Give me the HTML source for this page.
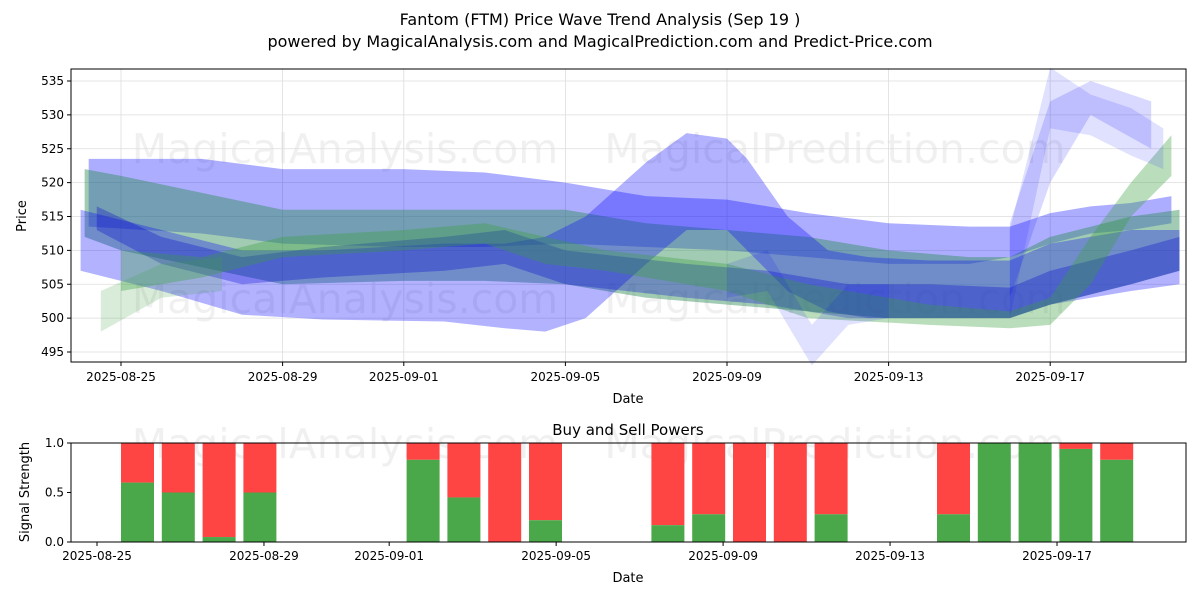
<!DOCTYPE html>
<html><head><meta charset="utf-8"><style>
body{margin:0;background:#fff;font-family:"Liberation Sans","DejaVu Sans",sans-serif;}
svg text{font-family:"DejaVu Sans","Liberation Sans",sans-serif;}
</style></head><body>
<svg id="c" width="1200" height="600" viewBox="0 0 1200 600" xmlns="http://www.w3.org/2000/svg">
<rect width="1200" height="600" fill="#fff"/>
<text x="600" y="25" text-anchor="middle" font-size="16">Fantom (FTM) Price Wave Trend Analysis (Sep 19 )</text>
<text x="600" y="47" text-anchor="middle" font-size="16">powered by MagicalAnalysis.com and MagicalPrediction.com and Predict-Price.com</text>
<g id="topPanel"></g>
<g id="botPanel"></g>
</svg>
<script>
const NS="http://www.w3.org/2000/svg";
const tickDates=["2025-08-25","2025-08-29","2025-09-01","2025-09-05","2025-09-09","2025-09-13","2025-09-17"];
const tickDays=[0,4,7,11,15,19,23];
const priceTicks=[495,500,505,510,515,520,525,530,535];
const sigTicks=[0,0.5,1.0];
const sigLabels=["0.0","0.5","1.0"];
const b1Days=[-0.8,2,4,7,9,11,13,15,17,19,21,22,23,24,25,26];
const b1Lo=[513.5,512.5,511,510.5,510.5,511,510.5,510,509,508,508,509,511,512.5,513,514];
const b1Hi=[523.5,523.5,522,522,521.5,520,518,517.5,515.5,514,513.5,513.5,515.5,516.5,517,518];
const b2Days=[-0.9,0,4,7,9,11,13,15,17,19,21,22,23,25,26.2];
const b2Lo=[512,510,505,505.5,505.5,505,503,502,501,500,500,500,502,505,507];
const b2Hi=[522,521,516,516,516,516,514,513,512,510,509,509,512,515,516];
const b3Days=[-1,1,3,5,8,9.5,10.5,11.5,13,14,15,15.5,16.5,17.5,18.5,20,22,23,25,26.2];
const b3Lo=[507,504,500.5,499.8,499.5,498.5,498,500,508,513,513,510,504,501,500,500,500,502,504,505];
const b3Hi=[516,513,510,510,511,511,512,515,523,527.3,526.5,523.5,515,510,509,508.5,508.5,511,513,513];
const b4Days=[-0.6,1,3,5,8,9.5,11,14,16,18,20,22,23,25,26.2];
const b4Lo=[513,508,505,506,507,508,505,503,502,500,500,500,502,505,507];
const b4Hi=[516.5,512,509,510.5,512,513,510,508,507,505,505,504.5,507,510,512];
const b5Days=[0,2,4,7,9,10.5,12,15,17,20,22,23,24,25,26];
const b5Lo=[504,506,509,510,511,508,507,504,500,499,498.5,499,505,515,521];
const b5Hi=[510,509,512,513,514,512,510,508,505,502,501,503,512,520,527];
const b6Days=[22,23,24,25,25.8];
const b6Lo=[500,528,527,524,522];
const b6Hi=[513,537,533,531,528];
const b7Days=[22,23,24,25.5];
const b7Lo=[503,520,530,525];
const b7Hi=[514,532,535,532];
const b8Days=[15,16,17.1,18,19];
const b8Lo=[503,504,493,499,500];
const b8Hi=[508,510,499,505,505];
const b9Days=[-0.5,1,2.5];
const b9Lo=[498,503,504];
const b9Hi=[504,508,509];
const sigDays=[1,2,3,4,8,9,10,11,14,15,16,17,18,21,22,23,24,25];
const buyVals=[0.6,0.5,0.05,0.5,0.83,0.45,0,0.22,0.17,0.28,0,0,0.28,0.28,1.0,1.0,0.94,0.83];

const L=71,R=1186,T1=69,B1=362,T2=443,B2=542;
const xTop=d=>121+d*40.4;
const yTop=p=>81+(535-p)*6.775;
const xBot=d=>97+d*41.74;
const xBar=d=>137.5+(d-1)*40.8;
const yBot=v=>B2-v*(B2-T2);
function el(t,a,p){const e=document.createElementNS(NS,t);for(const k in a)e.setAttribute(k,a[k]);p.appendChild(e);return e;}
const topG=document.getElementById('topPanel'),botG=document.getElementById('botPanel');
[[345,163,"MagicalAnalysis.com"],[835,163,"MagicalPrediction.com"],[345,313,"MagicalAnalysis.com"],[835,313,"MagicalPrediction.com"],[345,458,"MagicalAnalysis.com"],[835,458,"MagicalPrediction.com"]].forEach(w=>{
 const t=el('text',{x:w[0],y:w[1],'text-anchor':'middle','font-size':41,fill:'#000','fill-opacity':0.06},topG);t.textContent=w[2];
 
 
});
priceTicks.forEach(p=>{const y=yTop(p);
 const g=el('line',{x1:L,x2:R,y1:y,y2:y,stroke:'#ddd','stroke-width':0.8},topG);
 
 
 el('line',{x1:L-4,x2:L,y1:y,y2:y,stroke:'#000'},topG);
 const t=el('text',{x:L-7,y:y+4,'text-anchor':'end','font-size':12},topG);t.textContent=p;
 
 
});
tickDays.forEach((d,i)=>{const x=xTop(d);
 const g=el('line',{x1:x,x2:x,y1:T1,y2:B1,stroke:'#ddd','stroke-width':0.8},topG);
 
 
 el('line',{x1:x,x2:x,y1:B1,y2:B1+4,stroke:'#000'},topG);
 const t=el('text',{x:x,y:B1+19,'text-anchor':'middle','font-size':12},topG);t.textContent=tickDates[i];
 
 
});
const bands=[[b1Days,b1Lo,b1Hi,'#0000ff',0.32],[b2Days,b2Lo,b2Hi,'#2e8b57',0.45],[b3Days,b3Lo,b3Hi,'#0000ff',0.3],[b4Days,b4Lo,b4Hi,'#0000cc',0.3],[b5Days,b5Lo,b5Hi,'#3aa040',0.35],[b6Days,b6Lo,b6Hi,'#0000ff',0.12],[b7Days,b7Lo,b7Hi,'#0000ff',0.15],[b8Days,b8Lo,b8Hi,'#0000ff',0.12],[b9Days,b9Lo,b9Hi,'#3aa040',0.2]];
bands.forEach(b=>{const [ds,lo,hi,c,a]=b;
 let pts=ds.map((d,i)=>xTop(d)+','+yTop(hi[i]));
 pts=pts.concat(ds.map((d,i)=>xTop(d)+','+yTop(lo[i])).reverse());
 const p=el('polygon',{points:pts.join(' '),fill:c,'fill-opacity':a},topG);
 
 
});
el('rect',{x:L,y:T1,width:R-L,height:B1-T1,fill:'none',stroke:'#000','stroke-width':1},topG);
let tx=el('text',{x:628,y:403,'text-anchor':'middle','font-size':13},topG);tx.textContent='Date';

tx=el('text',{x:26,y:216,'text-anchor':'middle','font-size':13,transform:'rotate(-90 26 216)'},topG);tx.textContent='Price';

tx=el('text',{x:628,y:435,'text-anchor':'middle','font-size':15},botG);tx.textContent='Buy and Sell Powers';

sigTicks.forEach((v,i)=>{const y=yBot(v);
 el('line',{x1:L-4,x2:L,y1:y,y2:y,stroke:'#000'},botG);
 const tt=el('text',{x:L-7,y:y+4,'text-anchor':'end','font-size':12},botG);tt.textContent=sigLabels[i];
 
 
});
tickDays.forEach((d,i)=>{const x=xBot(d);
 el('line',{x1:x,x2:x,y1:B2,y2:B2+4,stroke:'#000'},botG);
 const tt=el('text',{x:x,y:B2+18,'text-anchor':'middle','font-size':12},botG);tt.textContent=tickDates[i];
 
 
});
sigDays.forEach((d,i)=>{const x=xBar(d)-16.5,v=buyVals[i];
 const r=el('rect',{x:x,y:yBot(1),width:33,height:yBot(v)-yBot(1),fill:'#ff4444'},botG);
 
 
 const g=el('rect',{x:x,y:yBot(v),width:33,height:yBot(0)-yBot(v),fill:'#4aa84a'},botG);
 
 
});
el('rect',{x:L,y:T2,width:R-L,height:B2-T2,fill:'none',stroke:'#000','stroke-width':1},botG);
tx=el('text',{x:628,y:582,'text-anchor':'middle','font-size':13},botG);tx.textContent='Date';

tx=el('text',{x:29,y:492,'text-anchor':'middle','font-size':13,transform:'rotate(-90 29 492)'},botG);tx.textContent='Signal Strength';

</script>
</body></html>
